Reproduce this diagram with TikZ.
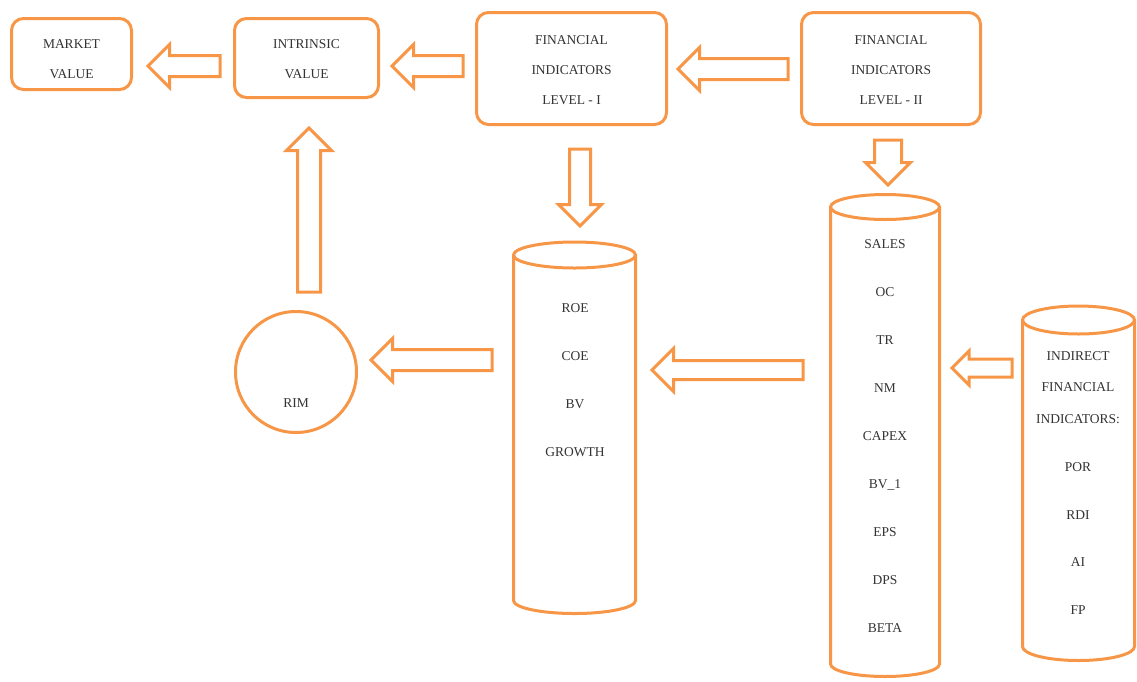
\documentclass[tikz,border=0pt]{standalone}
\usepackage{fontspec}
\setmainfont{Liberation Serif}
\usetikzlibrary{shapes.arrows}
\definecolor{ora}{HTML}{F79646}
\definecolor{ink}{HTML}{333333}
% cylinder: centre x, top y, bottom y, x radius, y radius
\newcommand\dbcan[5]{%
  \draw[can] (#1,#2) ellipse[x radius=#4pt, y radius=#5pt];
  \draw[can] (#1-#4,#2) -- (#1-#4,#3) arc[start angle=180, end angle=360, x radius=#4pt, y radius=#5pt] -- (#1+#4,#2);}
\begin{document}
\begin{tikzpicture}[x=1pt, y=-1pt,
  box/.style={draw=ora, line width=3pt, rounded corners=12pt},
  can/.style={draw=ora, line width=3pt},
  lst/.style={align=center, text=ink, font=\fontsize{13.5}{48}\selectfont},
  btx/.style={align=center, text=ink, font=\fontsize{13.5}{30}\selectfont},
  blk/.style={draw=ora, line width=3pt, single arrow, anchor=tip, inner sep=9pt, outer sep=0pt,
    single arrow head extend=11pt, minimum height=#1},
  left/.style={shape border rotate=180}, down/.style={shape border rotate=270},
  up/.style={shape border rotate=90}]
\useasboundingbox (0,0) rectangle (1137,681);
% top row
\node[box, minimum width=120, minimum height=71] (mv) at (71.5,54) {};
\node[btx] (mvt) at (71.5,59) {MARKET\\VALUE};
\node[box, minimum width=144, minimum height=79] (iv) at (306.5,58) {};
\node[btx] (ivt) at (306.5,59) {INTRINSIC\\VALUE};
\node[box, minimum width=190, minimum height=112] (fi1) at (571.5,68.5) {};
\node[btx] (fi1t) at (571.5,70) {FINANCIAL\\INDICATORS\\LEVEL - I};
\node[box, minimum width=179, minimum height=112] (fi2) at (891,68.5) {};
\node[btx] (fi2t) at (891,70) {FINANCIAL\\INDICATORS\\LEVEL - II};
% databases
\dbcan{574.5}{255}{600.5}{61}{13}
\dbcan{885}{207}{664}{54.5}{12.5}
\dbcan{1078.5}{320}{646.5}{56}{14}
\node[lst] (l1) at (575,380) {ROE\\COE\\BV\\GROWTH};
\node[lst] (l2) at (885,436) {SALES\\OC\\TR\\NM\\CAPEX\\BV\_1\\EPS\\DPS\\BETA};
\node[lst, font=\fontsize{13.5}{31.5}\selectfont] (l3) at (1078,483)
  {INDIRECT\\FINANCIAL\\INDICATORS:\\[17pt]POR\\[16pt]RDI\\[16pt]AI\\[16pt]FP};
% model
\node[draw=ora, line width=3pt, circle, minimum size=121] (rim) at (296,372) {};
\node[text=ink, font=\fontsize{13.5}{16}\selectfont] (rimt) at (296,403) {RIM};
% block arrows
\node[blk=72, left] (a1) at (148,66) {};
\node[blk=71, left] (a2) at (392,66) {};
\node[blk=110, left] (a3) at (678,69) {};
\node[blk=77, down] (a4) at (580,226) {};
\node[blk=45, down, inner sep=12pt, single arrow head extend=9pt] (a5) at (888,185) {};
\node[blk=60, left, inner sep=7.5pt, single arrow head extend=8pt] (a6) at (952,368) {};
\node[blk=151, left, inner sep=8pt, single arrow head extend=12pt] (a7) at (652,370) {};
\node[blk=121, left] (a8) at (371,360) {};
\node[blk=164, up, inner sep=10pt] (a9) at (309,128) {};
\end{tikzpicture}
\end{document}
